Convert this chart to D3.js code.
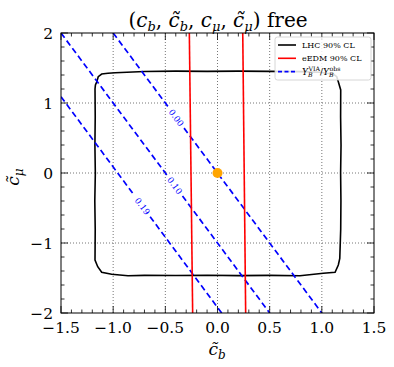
<!DOCTYPE html>
<html><head><meta charset="utf-8">
<script src="https://cdn.jsdelivr.net/npm/d3@7"></script>
<style>body{margin:0;background:#fff}svg{display:block}text{font-family:"DejaVu Serif",serif}</style>
</head><body><svg id="c" width="394" height="367"></svg>
<script>
// ---- data ----
const xTicks = [-1.5, -1.0, -0.5, 0.0, 0.5, 1.0, 1.5];
const yTicks = [-2, -1, 0, 1, 2];
// LHC 90% CL contour (c_b tilde, c_mu tilde)
const lhcCb = [-1.174,-1.17,-1.158,-1.143,-1.11,-1.05,-0.98,-0.7,-0.4,-0.1,0.2,0.5,0.8,0.98,1.05,1.11,1.143,1.158,1.181,1.18,1.184,1.18,1.183,1.181,1.172,1.158,1.127,1.014,0.79,0.5,0.2,-0.1,-0.4,-0.7,-0.858,-1.014,-1.11,-1.148,-1.174,-1.172,-1.176,-1.171,-1.175,-1.172];
const lhcCm = [1.20,1.257,1.30,1.376,1.414,1.424,1.433,1.45,1.455,1.452,1.456,1.452,1.448,1.44,1.424,1.414,1.376,1.304,1.186,0.8,0.4,0.0,-0.4,-0.8,-1.219,-1.314,-1.419,-1.433,-1.467,-1.462,-1.466,-1.46,-1.465,-1.462,-1.467,-1.447,-1.419,-1.339,-1.243,-0.8,-0.4,0.0,0.4,0.8];
// eEDM 90% CL bounds (endpoints at c_mu = 2 and -2)
const edmTop = [-0.27, 0.242];
const edmBot = [-0.238, 0.27];
// Y_B^VIA / Y_B^obs contours
const ybLevels = ["0.00", "0.10", "0.19"];
const ybStartCb = [-1.0, -1.5, -1.5];
const ybStartCm = [2.0, 2.0, 1.09];
const ybEndCb = [1.0, 0.5, 0.04];
const ybEndCm = [-2.0, -2.0, -2.0];
const ybLabelCb = [-0.395, -0.41, -0.72];
const point = [0.0, 0.0];
const legendLabels = ["LHC 90% CL", "eEDM 90% CL", "YB"];

// ---- chart ----
const svg = d3.select("#c");
const L = 61, R = 374, T = 33, B = 313;
const x = d3.scaleLinear().domain([-1.5, 1.5]).range([L, R]);
const y = d3.scaleLinear().domain([-2, 2]).range([B, T]);

svg.append("defs").append("clipPath").attr("id", "clip").append("rect").attr("x", L).attr("y", T).attr("width", R - L).attr("height", B - T);
const plot = svg.append("g").attr("clip-path", "url(#clip)");

// grid
plot.selectAll(".gx").data(xTicks.filter(v => v > -1.5 && v < 1.5)).join("line")
  .attr("x1", d => x(d)).attr("x2", d => x(d)).attr("y1", T).attr("y2", B)
  .attr("stroke", "#666").attr("stroke-width", 0.9).attr("stroke-dasharray", "1,2");
plot.selectAll(".gy").data(yTicks.filter(v => v > -2 && v < 2)).join("line")
  .attr("y1", d => y(d)).attr("y2", d => y(d)).attr("x1", L).attr("x2", R)
  .attr("stroke", "#666").attr("stroke-width", 0.9).attr("stroke-dasharray", "1,2");

// LHC contour
const lhc = lhcCb.map((v, i) => [v, lhcCm[i]]);
plot.append("path").datum(lhc)
  .attr("d", d3.line().x(d => x(d[0])).y(d => y(d[1])).curve(d3.curveLinearClosed))
  .attr("fill", "none").attr("stroke", "#000").attr("stroke-width", 1.6);

// Y_B contours with inline labels
ybLevels.forEach((lv, i) => {
  const p0 = [x(ybStartCb[i]), y(ybStartCm[i])], p1 = [x(ybEndCb[i]), y(ybEndCm[i])];
  const dx = p1[0] - p0[0], dy = p1[1] - p0[1], len = Math.hypot(dx, dy);
  const ux = dx / len, uy = dy / len;
  const t = (x(ybLabelCb[i]) - p0[0]) / ux;
  const c = [p0[0] + ux * t, p0[1] + uy * t];
  const gap = 13;
  const segs = [[p0, [c[0] - ux * gap, c[1] - uy * gap]], [[c[0] + ux * gap, c[1] + uy * gap], p1]];
  segs.forEach(s => plot.append("line").attr("x1", s[0][0]).attr("y1", s[0][1]).attr("x2", s[1][0]).attr("y2", s[1][1])
    .attr("stroke", "#0000ff").attr("stroke-width", 1.7).attr("stroke-dasharray", "6,3.5"));
  const ang = Math.atan2(dy, dx) * 180 / Math.PI;
  plot.append("text").attr("transform", `translate(${c[0]},${c[1]}) rotate(${ang})`)
    .attr("text-anchor", "middle").attr("dy", "0.35em").attr("font-size", 8.5).attr("fill", "#0000ff").text(lv);
});

// eEDM lines
edmTop.forEach((v, i) => plot.append("line").attr("x1", x(v)).attr("y1", y(2)).attr("x2", x(edmBot[i])).attr("y2", y(-2))
  .attr("stroke", "#ff0000").attr("stroke-width", 1.6));

// point
plot.append("circle").attr("cx", x(point[0])).attr("cy", y(point[1])).attr("r", 5).attr("fill", "#ffa500");

// frame
svg.append("rect").attr("x", L).attr("y", T).attr("width", R - L).attr("height", B - T).attr("fill", "none").attr("stroke", "#000").attr("stroke-width", 1);

// ticks (inward on all sides)
const xMinor = d3.range(-15, 16).map(v => v / 10);
const yMinor = d3.range(-10, 11).map(v => v / 5);
const tk = svg.append("g").attr("stroke", "#000").attr("stroke-width", 0.8);
xMinor.forEach(v => {
  const major = xTicks.some(m => Math.abs(m - v) < 1e-9);
  const l = major ? 7 : 3.5;
  tk.append("line").attr("x1", x(v)).attr("x2", x(v)).attr("y1", B).attr("y2", B - l);
  tk.append("line").attr("x1", x(v)).attr("x2", x(v)).attr("y1", T).attr("y2", T + l);
});
yMinor.forEach(v => {
  const major = yTicks.some(m => Math.abs(m - v) < 1e-9);
  const l = major ? 7 : 3.5;
  tk.append("line").attr("y1", y(v)).attr("y2", y(v)).attr("x1", L).attr("x2", L + l);
  tk.append("line").attr("y1", y(v)).attr("y2", y(v)).attr("x1", R).attr("x2", R - l);
});
const fmt = v => (v < 0 ? "\u2212" : "") + Math.abs(v).toFixed(1);
svg.selectAll(".xl").data(xTicks).join("text").attr("x", d => x(d)).attr("y", 333)
  .attr("text-anchor", "middle").attr("font-size", 15.5).text(fmt);
svg.selectAll(".yl").data(yTicks).join("text").attr("x", 53).attr("y", d => y(d)).attr("dy", "0.36em")
  .attr("text-anchor", "end").attr("font-size", 15.5).text(d => (d < 0 ? "\u2212" : "") + Math.abs(d));

// axis labels
const xl = svg.append("text").attr("x", 217).attr("y", 355).attr("text-anchor", "middle").attr("font-size", 17);
xl.append("tspan").attr("font-style", "italic").text("c\u0303");
xl.append("tspan").attr("font-style", "italic").attr("font-size", 12).attr("dy", 4).text("b");
const yl = svg.append("text").attr("transform", "translate(19,177) rotate(-90)").attr("text-anchor", "middle").attr("font-size", 17);
yl.append("tspan").attr("font-style", "italic").text("c\u0303");
yl.append("tspan").attr("font-style", "italic").attr("font-size", 12).attr("dy", 4).text("\u03bc");

// title
const tt = svg.append("text").attr("x", 218).attr("y", 27).attr("text-anchor", "middle").attr("font-size", 20);
const parts = [["(", null], ["c", "b"], [", ", null], ["c\u0303", "b"], [", ", null], ["c", "\u03bc"], [", ", null], ["c\u0303", "\u03bc"], [") free", null]];
let down = false;
parts.forEach(p => {
  if (p[1] === null) {
    tt.append("tspan").attr("font-style", "normal").attr("dy", down ? -4 : 0).text(p[0]);
    down = false;
  } else {
    tt.append("tspan").attr("font-style", "italic").text(p[0]);
    tt.append("tspan").attr("font-style", "italic").attr("font-size", 13).attr("dy", 4).text(p[1]);
    down = true;
  }
});

// legend
const lg = svg.append("g");
lg.append("rect").attr("x", 275).attr("y", 37).attr("width", 96).attr("height", 43).attr("rx", 2.5)
  .attr("fill", "#fff").attr("fill-opacity", 0.85).attr("stroke", "#ccc").attr("stroke-width", 0.8);
const lgColors = ["#000", "#ff0000", "#0000ff"];
const lgDash = [null, null, "4,2.5"];
legendLabels.forEach((lab, i) => {
  const yy = 45 + i * 13.3;
  lg.append("line").attr("x1", 278).attr("x2", 296).attr("y1", yy).attr("y2", yy)
    .attr("stroke", lgColors[i]).attr("stroke-width", 1.6).attr("stroke-dasharray", lgDash[i]);
  const t = lg.append("text").attr("x", 302).attr("y", yy).attr("dy", "0.35em").attr("font-size", 8);
  if (lab === "YB") {
    t.attr("font-size", 9);
    t.append("tspan").attr("font-style", "italic").text("Y");
    t.append("tspan").attr("font-size", 6.3).attr("font-style", "italic").attr("dy", 2.2).text("B");
    t.append("tspan").attr("font-size", 6.3).attr("dx", -4.2).attr("dy", -6.2).text("VIA");
    t.append("tspan").attr("dy", 4).text("/");
    t.append("tspan").attr("font-style", "italic").text("Y");
    t.append("tspan").attr("font-size", 6.3).attr("font-style", "italic").attr("dy", 2.2).text("B");
    t.append("tspan").attr("font-size", 6.3).attr("dx", -4.2).attr("dy", -6.2).text("obs");
  } else t.text(lab);
});
</script></body></html>
